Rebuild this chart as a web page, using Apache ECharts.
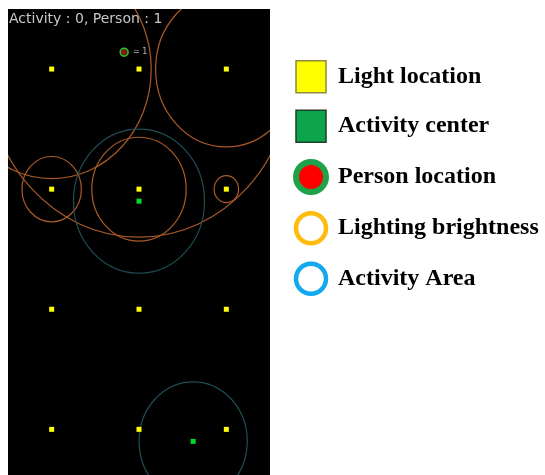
<!DOCTYPE html>
<html>
<head>
<meta charset="utf-8">
<script src="https://cdn.jsdelivr.net/npm/echarts@6/dist/echarts.min.js"></script>
<style>
  html, body { margin: 0; padding: 0; background: #fff; }
  #main { width: 545px; height: 475px; }
</style>
</head>
<body>
<div id="main"></div>
<script>
// room coordinates (x: 0..300, y: 0..485, y grows downward)
const lightCols = [50, 150, 250];
const lightRows = [62.5, 187.5, 312.5, 437.5];
// brightness radius of each light, row by row (0 = off)
const lightRadius = [
	[114, 175, 81],
	[34, 54, 14],
	[0, 0, 0],
	[0, 0, 0]
];
const activityCenters = [[150, 200], [212, 450]];
const activityRadius = [75, 62];
const personLocations = [[133, 45]];
const activityCount = 0;
const personCount = 1;

const legendNames = ['Light location', 'Activity center', 'Person location', 'Lighting brightness', 'Activity Area'];

// build series data from the arrays above
var lights = [];
var brightness = [];
lightRows.forEach(function (y, i) {
	lightCols.forEach(function (x, j) {
		lights.push([x, y]);
		brightness.push([x, y, lightRadius[i][j]]);
	});
});
var areas = activityCenters.map(function (c, i) {
	return [c[0], c[1], activityRadius[i]];
});

// draws a circle of radius value(2) in room units, clipped to the room
function ringItem(color) {
	return function (params, api) {
		var r = api.value(2);
		if (!r) return;
		var c = api.coord([api.value(0), api.value(1)]);
		var s = api.size([r, r]);
		var cs = params.coordSys;
		return {
			type: 'ellipse',
			shape: {cx: c[0], cy: c[1], rx: s[0], ry: s[1]},
			style: {fill: 'none', stroke: color, lineWidth: 1.2},
			clipPath: {type: 'rect', shape: {x: cs.x, y: cs.y, width: cs.width, height: cs.height}}
		};
	};
}

const chart = echarts.init(document.getElementById('main'));

chart.setOption({
	animation: false,
	backgroundColor: '#fff',
	title: {
		text: 'Activity : ' + activityCount + ', Person : ' + personCount,
		left: 9,
		top: 12,
		padding: 0,
		textStyle: {color: '#c8c8c8', fontSize: 14, fontWeight: 'normal', fontFamily: 'DejaVu Sans'}
	},
	grid: {
		left: 8, top: 9, width: 262, height: 466,
		show: true, backgroundColor: '#000', borderWidth: 0
	},
	xAxis: {type: 'value', min: 0, max: 300, show: false},
	yAxis: {type: 'value', min: 0, max: 485, inverse: true, show: false},
	legend: {
		orient: 'vertical',
		left: 293,
		top: 60,
		padding: 0,
		itemWidth: 30,
		itemHeight: 32,
		itemGap: 16,
		selectedMode: false,
		textStyle: {
			fontFamily: 'Liberation Serif', fontWeight: 'bold', fontSize: 24,
			color: '#000', padding: [0, 0, 0, 7]
		},
		data: [
			{name: legendNames[0], icon: 'rect', itemStyle: {color: '#ffff00', borderColor: '#8c8c3c', borderWidth: 1.5, opacity: 1}},
			{name: legendNames[1], icon: 'rect', itemStyle: {color: '#0ca54c', borderColor: '#1f3d2b', borderWidth: 1.5, opacity: 1}},
			{name: legendNames[2], icon: 'circle', itemStyle: {color: '#ff0000', borderColor: '#1ea34a', borderWidth: 6, opacity: 1}},
			{name: legendNames[3], icon: 'circle', itemStyle: {color: '#fff', borderColor: '#ffbb0e', borderWidth: 4.5, opacity: 1}},
			{name: legendNames[4], icon: 'circle', itemStyle: {color: '#fff', borderColor: '#12a9ee', borderWidth: 4.5, opacity: 1}}
		]
	},
	series: [
		{
			name: legendNames[3],
			type: 'custom',
			renderItem: ringItem('#aa5a28'),
			data: brightness,
			silent: true
		},
		{
			name: legendNames[4],
			type: 'custom',
			renderItem: ringItem('#1d4f55'),
			data: areas,
			silent: true
		},
		{
			name: legendNames[0],
			type: 'scatter',
			symbol: 'rect',
			symbolSize: 5,
			itemStyle: {color: '#ffff00', opacity: 1},
			data: lights
		},
		{
			name: legendNames[1],
			type: 'scatter',
			symbol: 'rect',
			symbolSize: 5,
			itemStyle: {color: '#00dd22', opacity: 1},
			data: activityCenters
		},
		{
			name: legendNames[2],
			type: 'scatter',
			symbol: 'circle',
			symbolSize: 8,
			itemStyle: {color: '#7a1c1c', borderColor: '#22cc22', borderWidth: 1.5, opacity: 1},
			label: {
				show: true, position: 'right', distance: 4, formatter: '= ' + personCount,
				color: '#bbbbbb', fontSize: 8, fontFamily: 'DejaVu Sans'
			},
			data: personLocations
		}
	]
});
</script>
</body>
</html>
